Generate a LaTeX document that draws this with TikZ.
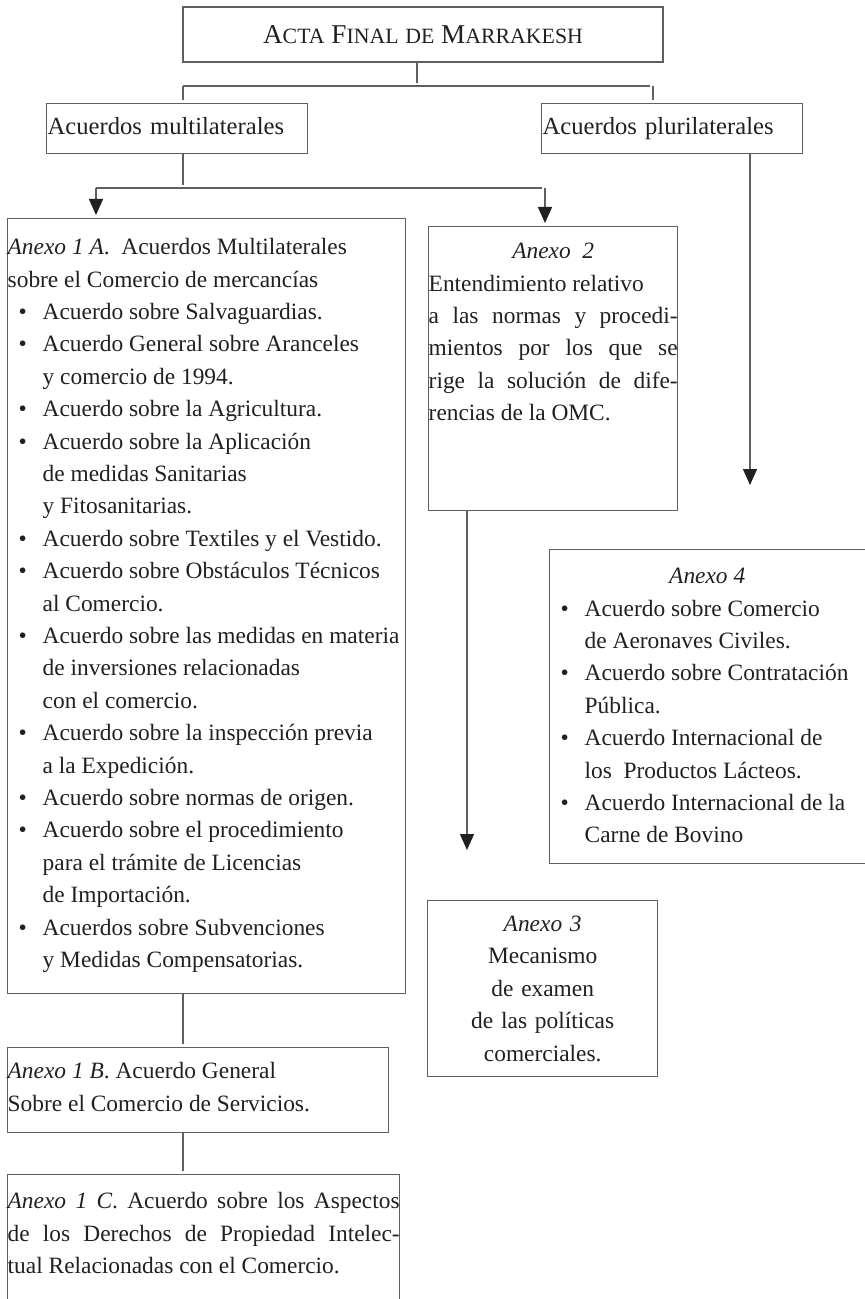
\documentclass[tikz,border=0pt]{standalone}
\usepackage{fontspec}
\setmainfont{Liberation Serif}
\usepackage{xcolor}
\usepackage{tikz}
\usetikzlibrary{arrows.meta}

\definecolor{linegray}{RGB}{95,95,95}
\definecolor{inkblack}{RGB}{35,31,32}

% fake small caps for the title
\newcommand{\fsc}[1]{{\fontsize{10.9}{12}\selectfont #1}}
% bullet item with hanging indent
\newcommand{\bul}[1]{\par\hangindent=17.5pt\hangafter=1\noindent\hspace*{5.5pt}\makebox[12pt][l]{\textbullet}#1}
% justified line
\newcommand{\jline}[1]{\makebox[\hsize][s]{#1}\par}

\begin{document}
\begin{tikzpicture}[x=0.5pt,y=-0.5pt,>={Triangle[length=8pt,width=7pt,color=inkblack]},shorten >=1.5pt,
                    line width=0.7pt,draw=linegray]
  \tikzstyle{every node}=[font=\fontsize{11.7}{16.2}\selectfont,text=inkblack]
  \tikzstyle{plainbox}=[draw=linegray,inner sep=0pt,anchor=north west]
  \tikzstyle{groupbox}=[plainbox,text width=129.5pt,inner xsep=0.5pt,inner ysep=6.5pt,
                        text height=8.7pt,text depth=3.3pt,align=left,
                        font=\fontsize{12.3}{16.2}\selectfont]

  \useasboundingbox (0,0) rectangle (864,1299);

  \node[plainbox,anchor=center,minimum width=240pt,minimum height=27.5pt,
        font=\fontsize{13.6}{16}\selectfont] (acta) at (423,34.5)
        {A\fsc{CTA} F\fsc{INAL} \fsc{DE} M\fsc{ARRAKESH}};

  \node[groupbox] (multi) at (46,103) {Acuerdos multilaterales};
  \node[groupbox] (pluri) at (541,103) {Acuerdos plurilaterales};

  \node[plainbox,inner ysep=6.66pt] (anexoIA) at (7,218)
        {\parbox[c][374.2pt][t]{199pt}{\raggedright\strut
         \textit{Anexo 1 A}.\ \ Acuerdos Multilaterales\newline
         sobre el Comercio de mercancías
         \bul{Acuerdo sobre Salvaguardias.}
         \bul{Acuerdo General sobre Aranceles\newline y comercio de 1994.}
         \bul{Acuerdo sobre la Agricultura.}
         \bul{Acuerdo sobre la Aplicación\newline de medidas Sanitarias\newline y Fitosanitarias.}
         \bul{Acuerdo sobre Textiles y el Vestido.}
         \bul{Acuerdo sobre Obstáculos Técnicos\newline al Comercio.}
         \bul{Acuerdo sobre las medidas en materia\newline de inversiones relacionadas\newline con el comercio.}
         \bul{Acuerdo sobre la inspección previa\newline a la Expedición.}
         \bul{Acuerdo sobre normas de origen.}
         \bul{Acuerdo sobre el procedimiento\newline para el trámite de Licencias\newline de Importación.}
         \bul{Acuerdos sobre Subvenciones\newline y Medidas Compensatorias.}}};

  \node[plainbox,inner ysep=4.16pt] (anexoIB) at (7,1047)
        {\parbox[c][34.18pt][t]{190.5pt}{\raggedright\strut
         \textit{Anexo 1 B}. Acuerdo General\newline
         Sobre el Comercio de Servicios.}};

  \node[plainbox,inner ysep=5.66pt] (anexoIC) at (7,1174)
        {\parbox[c][66.68pt][t]{196pt}{\strut
         \jline{\textit{Anexo 1 C}. Acuerdo sobre los Aspectos}
         \jline{de los Derechos de Propiedad Intelec-}
         tual Relacionadas con el Comercio.}};

  \node[plainbox,inner ysep=4.66pt] (anexoII) at (428,226)
        {\parbox[c][132.68pt][t]{124.5pt}{\strut
         \makebox[\hsize]{\textit{Anexo\ \ 2}}\par
         Entendimiento relativo\par
         \jline{a las normas y procedi-}
         \jline{mientos por los que se}
         \jline{rige la solución de dife-}
         rencias de la OMC.}};

  \node[plainbox,text width=115pt,align=center,minimum height=88pt] (anexoIII) at (427,900)
        {\textit{Anexo 3}\\ Mecanismo\\ de examen\\ de las políticas\\ comerciales.};

  \node[plainbox,inner ysep=5.66pt] (anexoIV) at (549,549)
        {\parbox[c][145.68pt][t]{160.5pt}{\raggedright\strut
         \makebox[157.5pt]{\textit{Anexo 4}}
         \bul{Acuerdo sobre Comercio\newline de Aeronaves Civiles.}
         \bul{Acuerdo sobre Contratación\newline Pública.}
         \bul{Acuerdo Internacional de\newline los\ \ Productos Lácteos.}
         \bul{Acuerdo Internacional de la\newline Carne de Bovino}}};

  \coordinate (split) at (417,86);
  \coordinate (lsplit) at (183,86);
  \coordinate (rsplit) at (653,86);
  \coordinate (msplit) at (183,188);
  \coordinate (toIA) at (96,188);
  \coordinate (toII) at (545,188);
  \coordinate (endIII) at (467,853);
  \coordinate (endIV) at (750,488);

  \draw (acta.south -| split) -- (split);
  \draw (lsplit) -- (rsplit);
  \draw (lsplit) -- (lsplit |- multi.north);
  \draw (rsplit) -- (rsplit |- pluri.north);
  \draw (multi.south -| msplit) -- (msplit);
  \draw (toIA) -- (toII);
  \draw[->] (toIA) -- (toIA |- anexoIA.north);
  \draw[->] (toII) -- (toII |- anexoII.north);
  \draw[->] (anexoII.south -| endIII) -- (endIII);
  \draw[->] (pluri.south -| endIV) -- (endIV);
  \draw (anexoIA.south -| msplit) -- (anexoIB.north -| msplit);
  \draw (anexoIB.south -| msplit) -- (anexoIC.north -| msplit);
\end{tikzpicture}
\end{document}
